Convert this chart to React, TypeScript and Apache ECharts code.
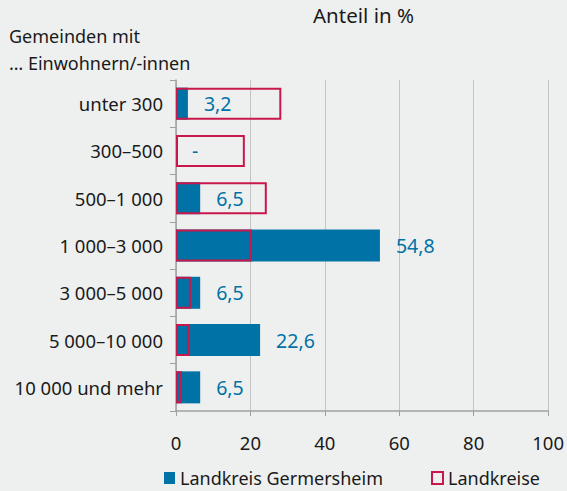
import React, { useEffect, useRef } from "react";
import * as echarts from "echarts";

const categories = [
  "unter 300",
  "300–500",
  "500–1 000",
  "1 000–3 000",
  "3 000–5 000",
  "5 000–10 000",
  "10 000 und mehr",
];
const germersheim = [3.2, 0, 6.5, 54.8, 6.5, 22.6, 6.5];
const landkreise = [28.3, 18.5, 24.4, 20.4, 4.0, 3.6, 1.6];
const xTicks = [0, 20, 40, 60, 80, 100];

const BLUE = "#0072a5";
const RED = "#c8174b";
const BG = "#eef0ef";
const TXT = "#1a1a1a";
const FONT = "'Noto Sans', 'Open Sans', sans-serif";

export default function App() {
  const ref = useRef<HTMLDivElement>(null);
  useEffect(() => {
    if (!ref.current) return;
    const chart = echarts.init(ref.current, undefined, { renderer: "svg" });
    chart.setOption({
      animation: false,
      backgroundColor: BG,
      textStyle: { fontFamily: FONT },
      title: [
        {
          text: "Anteil in %",
          left: 313,
          top: 4,
          padding: 0,
          textStyle: { fontSize: 20.5, fontWeight: "normal", color: TXT, fontFamily: FONT },
        },
        {
          text: "Gemeinden mit\n… Einwohnern/-innen",
          left: 9,
          top: 22,
          padding: 0,
          textStyle: {
            fontSize: 18,
            fontWeight: "normal",
            color: TXT,
            lineHeight: 27.5,
            fontFamily: FONT,
          },
        },
      ],
      legend: {
        left: 164,
        top: 469,
        padding: 0,
        itemGap: 48,
        itemWidth: 11,
        itemHeight: 12,
        icon: "rect",
        textStyle: { fontSize: 18, lineHeight: 15, color: TXT, fontFamily: FONT },
        data: ["Landkreis Germersheim", "Landkreise"],
      },
      grid: { left: 176, right: 18, top: 80, bottom: 80 },
      xAxis: {
        type: "value",
        min: xTicks[0],
        max: xTicks[xTicks.length - 1],
        interval: 20,
        axisLine: { show: true, lineStyle: { color: "#a0a0a0", width: 1.5 } },
        axisTick: { show: true, length: 5, lineStyle: { color: "#a0a0a0" } },
        axisLabel: { fontSize: 18.5, color: TXT, margin: 22, fontFamily: FONT },
        splitLine: { show: true, lineStyle: { color: "#c4c4c4", width: 1 } },
      },
      yAxis: {
        type: "category",
        data: categories,
        inverse: true,
        axisLine: { show: true, lineStyle: { color: "#a0a0a0", width: 1.5 } },
        axisTick: { show: true, length: 6, lineStyle: { color: "#a0a0a0" } },
        axisLabel: { fontSize: 18.5, color: TXT, margin: 13, fontFamily: FONT },
      },
      series: [
        {
          name: "Landkreis Germersheim",
          type: "bar",
          data: germersheim,
          barWidth: 32,
          itemStyle: { color: BLUE },
          z: 2,
          label: {
            show: true,
            position: "right",
            distance: 16,
            fontSize: 19.5,
            color: BLUE,
            fontFamily: FONT,
            formatter: (p: any) =>
              p.value === 0 ? "-" : String(p.value.toFixed(1)).replace(".", ","),
          },
        },
        {
          name: "Landkreise",
          type: "bar",
          data: landkreise,
          barWidth: 32,
          barGap: "-100%",
          z: 3,
          itemStyle: { color: "rgba(0,0,0,0)", borderColor: RED, borderWidth: 2 },
        },
      ],
    });
    return () => chart.dispose();
  }, []);
  return <div ref={ref} style={{ width: 567, height: 491, position: "absolute", left: 0, top: 0 }} />;
}
